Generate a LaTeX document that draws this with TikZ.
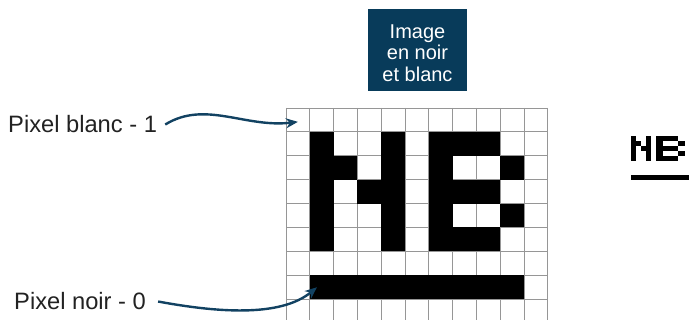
\documentclass[tikz,border=0pt]{standalone}
\usepackage{fontspec}
\setmainfont{Liberation Sans}
\usetikzlibrary{arrows.meta}
\definecolor{petrol}{RGB}{8,59,90}
\definecolor{encre}{RGB}{18,66,98}
\definecolor{trait}{RGB}{150,150,150}
\definecolor{ink}{RGB}{34,34,34}
\tikzset{
  >={Stealth[length=12pt,width=10pt]},
  titre/.style={fill=petrol,minimum width=99pt,minimum height=82pt,inner sep=0pt},
  titretxt/.style={text=white,align=center,inner sep=0pt,font=\fontsize{20}{21.5}\selectfont},
  lbl/.style={inner sep=0pt,font=\fontsize{23.7}{28}\selectfont,text=ink},
  fleche/.style={->,line width=2.4pt,draw=encre},
  trame/.style={draw=trait,line width=0.9pt},
  noir/.style={fill=black},
}

\begin{document}
\begin{tikzpicture}[x=1pt,y=-1pt]
  \useasboundingbox (0,0) rectangle (689,320);
  \clip (0,0) rectangle (689,320);
  \node[titre] (titre) at (417.5,50) {};
  \node[titretxt] (titretxt) at ([yshift=-3pt]titre.center) {Image\\en noir\\et blanc};
  % grille de pixels
  \begin{scope}[shift={(286,108)},x=23.8pt,y=-23.9pt]
    \foreach \i in {0,...,11} \draw[trame] (\i,0) -- (\i,9);
    \foreach \j in {0,...,9} \draw[trame] (0,\j) -- (11,\j);
    \foreach \c/\r in {1/1,4/1,6/1,7/1,8/1, 1/2,2/2,4/2,6/2,9/2,
      1/3,3/3,4/3,6/3,7/3,8/3, 1/4,4/4,6/4,9/4, 1/5,4/5,6/5,7/5,8/5}
      \fill[noir] (\c,\r) rectangle ++(1,1);
    \fill[noir] (1,7) rectangle (10,8);
    \coordinate (blancpt) at (0.5,0.58);
    \coordinate (noirpt) at (1.3,7.5);
  \end{scope}
  % apercu
  \begin{scope}[shift={(626,131)},x=5pt,y=-5pt]
    \foreach \c/\r in {1/1,4/1, 1/2,2/2,4/2, 1/3,3/3,4/3, 1/4,4/4, 1/5,4/5}
      \fill[noir] (\c,\r) rectangle ++(1,1);
    \fill[noir] (1,8.8) rectangle (14,9.8);
  \end{scope}
  \begin{scope}[shift={(656,131)},x=7.25pt,y=-5pt]
    \foreach \c/\r in {0/1,1/1,2/1, 0/2,3/2, 0/3,1/3,2/3, 0/4,3/4, 0/5,1/5,2/5}
      \fill[noir] (\c,\r) rectangle ++(1,1);
  \end{scope}
  \node[lbl,anchor=base west] (blanc) at (8,133) {Pixel blanc - 1};
  \node[lbl,anchor=base west] (noir) at (14,310) {Pixel noir - 0};
  \draw[fleche] ([xshift=8pt]blanc.east) .. controls (205,100) and (245,128) .. (blancpt);
  \draw[fleche] ([xshift=12pt]noir.east) .. controls (215,312) and (280,318) .. (noirpt);
\end{tikzpicture}
\end{document}
